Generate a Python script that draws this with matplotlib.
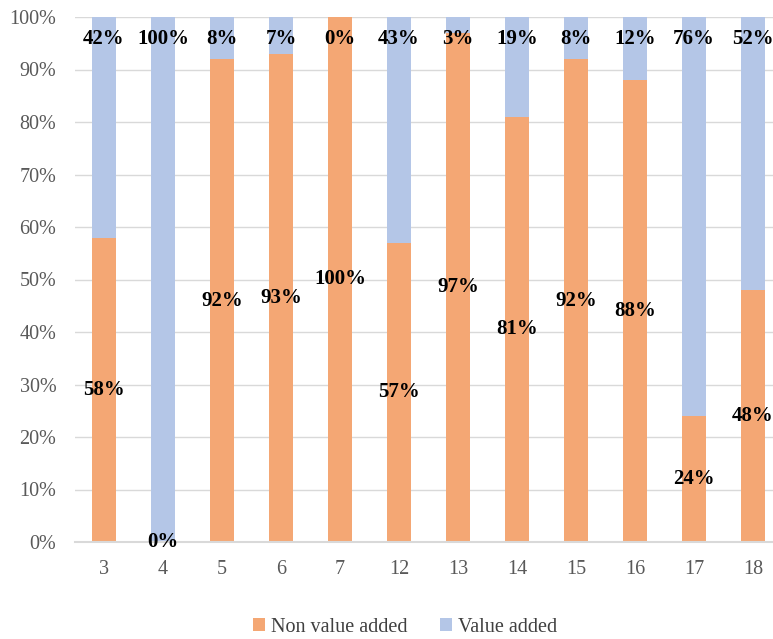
import numpy as np
import matplotlib.pyplot as plt

categories = ['3', '4', '5', '6', '7', '12', '13', '14', '15', '16', '17', '18']
non_value = [58, 0, 92, 93, 100, 57, 97, 81, 92, 88, 24, 48]
value_add = [42, 100, 8, 7, 0, 43, 3, 19, 8, 12, 76, 52]

orange = '#F4A774'
blue = '#B4C6E7'

plt.rcParams['font.family'] = ['Liberation Serif', 'DejaVu Serif']

fig = plt.figure(figsize=(7.73, 6.39), dpi=100)
ax = fig.add_axes([74.5/773, 1 - 542/639, 708/773, 525/639])

x = np.arange(len(categories))
w = 0.41
ax.bar(x, non_value, w, color=orange, label='Non value added', zorder=2)
ax.bar(x, value_add, w, bottom=non_value, color=blue, label='Value added', zorder=2)

# labels: orange centred, blue near top
for i in range(len(x)):
    ax.text(x[i], non_value[i] / 2, f'{non_value[i]}%', ha='center', va='center',
            fontsize=15, fontweight='bold', color='black', zorder=3)
    ax.text(x[i], 95.8, f'{value_add[i]}%', ha='center', va='center',
            fontsize=15, fontweight='bold', color='black', zorder=3)

ax.set_xlim(-0.5, len(x) - 0.5)
ax.set_ylim(0, 100)
ax.set_yticks(np.arange(0, 101, 10))
ax.set_yticklabels([f'{v}%' for v in range(0, 101, 10)])
ax.set_xticks(x)
ax.set_xticklabels(categories)
ax.tick_params(axis='both', length=0, labelsize=14.5, colors='#595959')
ax.tick_params(axis='x', pad=13)
ax.tick_params(axis='y', pad=13)
ax.grid(axis='y', color='#D9D9D9', linewidth=1, zorder=0)
for s in ['top', 'right', 'left']:
    ax.spines[s].set_visible(False)
ax.spines['bottom'].set_color('#D9D9D9')
ax.spines['bottom'].set_linewidth(1.5)

fig.legend(loc='lower center', bbox_to_anchor=(405/773, -0.025), ncol=2, frameon=False,
           fontsize=14.5, handlelength=0.6, handleheight=0.6, handletextpad=0.3,
           columnspacing=1.6, labelcolor='#404040')

fig.savefig('out.png', dpi=100)
